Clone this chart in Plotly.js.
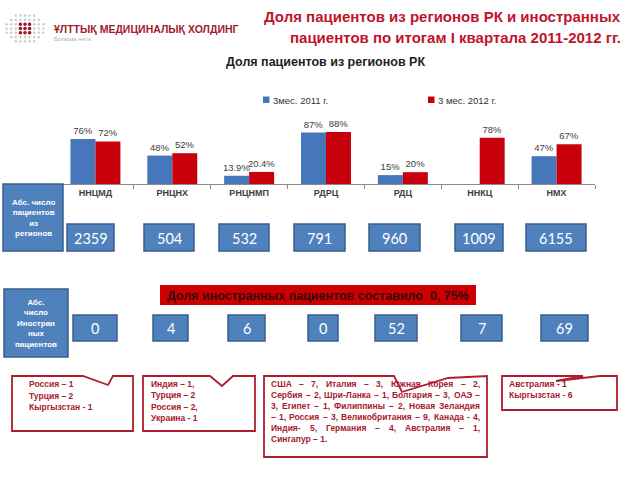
<!DOCTYPE html>
<html>
<head>
<meta charset="utf-8">
<script src="https://cdn.plot.ly/plotly-3.0.1.min.js"></script>
<style>
html,body{margin:0;padding:0;background:#fff;}
#chart{width:640px;height:480px;}
</style>
</head>
<body>
<div id="chart"></div>
<script>
// ---------- DATA ----------
const categories = ['ННЦМД', 'РНЦНХ', 'РНЦНМП', 'РДРЦ', 'РДЦ', 'ННКЦ', 'НМХ'];
const share2011 = [76, 48, 13.9, 87, 15, null, 47];
const share2012 = [72, 52, 20.4, 88, 20, 78, 67];
const seriesNames = ['3мес. 2011 г.', '3 мес. 2012 г.'];
const absRegional = [2359, 504, 532, 791, 960, 1009, 6155];
const absForeign = [0, 4, 6, 0, 52, 7, 69];
const mainTitleLines = ['Доля пациентов из регионов РК и иностранных', 'пациентов по итогам I квартала 2011-2012 гг.'];
const chartTitle = 'Доля пациентов из регионов РК';
const logoText = 'ҰЛТТЫҚ МЕДИЦИНАЛЫҚ ХОЛДИНГ';
const logoSub = 'Болашақ негізі';
const regionBoxLabel = 'Абс. число<br>пациентов<br>из<br>регионов';
const foreignBoxLabel = 'Абс.<br>число<br>Иностран<br>ных<br>пациентов';
const foreignShareText = 'Доля иностранных пациентов составило  0, 75%';
const callout1 = ['Россия – 1', 'Турция – 2', 'Кыргызстан - 1'];
const callout2 = ['Индия – 1,', 'Турция – 2', 'Россия – 2,', 'Украина - 1'];
const callout3 = [
  'США – 7,  Италия – 3,  Южная Корея – 2,',
  'Сербия – 2, Шри-Ланка – 1, Болгария – 3, ОАЭ –',
  '3, Египет – 1, Филиппины – 2, Новая Зеландия',
  '– 1, Россия – 3, Великобритания – 9, Канада - 4,',
  'Индия- 5, Германия – 4, Австралия – 1,',
  'Сингапур – 1.'
];
const callout4 = ['Австралия - 1', 'Кыргызстан - 6'];

// ---------- LAYOUT HELPERS (page pixels -> paper) ----------
const W = 640, H = 480;
const px = x => x / W;
const py = y => 1 - y / H;
const FONT = 'Liberation Sans, Arial, sans-serif';
const NUMFONT = 'Lato, Open Sans, sans-serif';
const BLUE = '#4677ba', RED = '#c8000c', TXTRED = '#a8182c', BOXBLUE = '#4f81bd', BOXEDGE = '#385d8a';

const row1Boxes = [[67,114],[144,194],[219,269],[294,345],[369,420],[455,503],[526,586]];
const row2Boxes = [[73,117],[153,188],[228,265],[308,338],[375,417],[461,502],[541,588]];

const shapes = [];
const annotations = [];

function rect(x0, y0, x1, y1, fill, line, lw) {
  shapes.push({type:'rect', xref:'paper', yref:'paper', x0:px(x0), x1:px(x1), y0:py(y1), y1:py(y0),
    fillcolor: fill, line:{color: line, width: lw}, layer:'above'});
}
function poly(pts, color, lw) {
  const d = pts.map((p, i) => (i ? 'L' : 'M') + px(p[0]).toFixed(5) + ',' + py(p[1]).toFixed(5)).join(' ') + ' Z';
  shapes.push({type:'path', xref:'paper', yref:'paper', path:d, fillcolor:'rgba(0,0,0,0)', line:{color, width: lw}, layer:'above'});
}
function text(t, x, y, opts) {
  opts = opts || {};
  annotations.push({xref:'paper', yref:'paper', x:px(x), y:py(y), text:t, showarrow:false,
    xanchor: opts.xanchor || 'center', yanchor: opts.yanchor || 'middle', align: opts.align || 'center',
    font: {family: opts.family || FONT, size: opts.size || 10, color: opts.color || '#222', weight: opts.weight || 'normal'},
    borderpad: 0});
}

// ---------- LOGO ----------
for (let r = -3; r <= 3; r++) {
  for (let c = -4; c <= 4; c++) {
    if ((c / 4.6) ** 2 + (r / 3.5) ** 2 > 1) continue;
    const cx = 25 + c * 4.6, cy = 28.5 + r * 4.3;
    const red = Math.abs(c) <= 1 && Math.abs(r) <= 1;
    const rr = red ? 1.8 : 1.3;
    shapes.push({type:'circle', xref:'paper', yref:'paper', x0:px(cx - rr), x1:px(cx + rr), y0:py(cy + rr), y1:py(cy - rr),
      fillcolor: red ? '#a01423' : '#cfcfcf', line:{width:0}});
  }
}
text(logoText, 53, 29, {xanchor:'left', size:10.5, color:'#a3202c', weight:'bold'});
text(logoSub, 53, 38.5, {xanchor:'left', size:5.5, color:'#b0b0b0'});

// ---------- TITLES ----------
text(mainTitleLines[0], 622, 17, {xanchor:'right', size:15, color:'#c0142c', weight:'bold'});
text(mainTitleLines[1], 622, 37, {xanchor:'right', size:15, color:'#c0142c', weight:'bold'});
text(chartTitle, 325, 62, {size:12.5, color:'#222', weight:'bold'});

// ---------- LEGEND (manual) ----------
rect(263, 96.5, 269.5, 103, BLUE, BLUE, 0);
text(seriesNames[0], 271.5, 100, {xanchor:'left', size:9.5, color:'#333'});
rect(428, 96.5, 434.5, 103, RED, RED, 0);
text(seriesNames[1], 436.5, 100, {xanchor:'left', size:9.5, color:'#333'});

// ---------- ROW 1 ----------
rect(3, 184, 63, 251, BOXBLUE, BOXEDGE, 1.5);
text(regionBoxLabel, 33, 218, {size:8, color:'#fff', weight:'bold'});
absRegional.forEach((v, i) => {
  const b = row1Boxes[i];
  rect(b[0], 224, b[1], 251, BOXBLUE, BOXEDGE, 1.5);
  text(String(v), (b[0] + b[1]) / 2, 238, {size:14.5, color:'#fff', family:NUMFONT});
});

// ---------- ROW 2 ----------
rect(160, 285, 476, 305, '#cc0000', '#cc0000', 0);
text(foreignShareText, 318, 295.5, {size:12.5, color:'#3a0508', weight:'bold'});
rect(4, 289, 68, 357, BOXBLUE, BOXEDGE, 1.5);
text(foreignBoxLabel, 36, 323, {size:8, color:'#fff', weight:'bold'});
absForeign.forEach((v, i) => {
  const b = row2Boxes[i];
  rect(b[0], 315, b[1], 341, BOXBLUE, BOXEDGE, 1.5);
  text(String(v), (b[0] + b[1]) / 2, 328.5, {size:14.5, color:'#fff', family:NUMFONT});
});

// ---------- CALLOUTS ----------
poly([[12,376],[83,376],[108,385],[113,376],[133,376],[133,431],[12,431]], '#b01c2e', 1.8);
poly([[143,376],[210,376],[222,386],[233,376],[255,376],[255,431],[143,431]], '#b01c2e', 1.8);
poly([[264,376],[394,376],[402,392],[448,378],[487,376],[487,457],[264,457]], '#b01c2e', 1.8);
poly([[502,376],[583,376],[556,381],[600,376],[617,376],[617,410],[502,410]], '#b01c2e', 1.8);

const CF = 8.5;
callout1.forEach((t, i) => text(t, 28, 384 + i * 11.5, {xanchor:'left', size:CF, color:TXTRED, weight:'bold'}));
callout2.forEach((t, i) => text(t, 150, 384 + i * 11.3, {xanchor:'left', size:CF, color:TXTRED, weight:'bold'}));
callout4.forEach((t, i) => text(t, 508, 383.5 + i * 11.5, {xanchor:'left', size:CF, color:TXTRED, weight:'bold'}));

// justified paragraph in callout 3
(function () {
  const ctx = document.createElement('canvas').getContext('2d');
  ctx.font = 'bold ' + CF + 'px "Liberation Sans"';
  const x0 = 270, x1 = 479;
  callout3.forEach((line, li) => {
    const y = 383.5 + li * 11;
    const last = li === callout3.length - 1;
    const words = line.split(/\s+/).filter(Boolean);
    if (last || words.length < 2) {
      text(line, x0, y, {xanchor:'left', size:CF, color:TXTRED, weight:'bold'});
      return;
    }
    const ws = words.map(w => ctx.measureText(w).width);
    const total = ws.reduce((a, b) => a + b, 0);
    const gap = (x1 - x0 - total) / (words.length - 1);
    let x = x0;
    words.forEach((w, i) => {
      text(w, x, y, {xanchor:'left', size:CF, color:TXTRED, weight:'bold'});
      x += ws[i] + gap;
    });
  });
})();

// ---------- BAR CHART ----------
const traces = [
  {type:'bar', x:categories, y:share2011, name:seriesNames[0], marker:{color:BLUE},
   texttemplate:'%{y}%', textposition:'outside', constraintext:'none', cliponaxis:false,
   textfont:{family:FONT, size:9.5, color:'#404040'}, hoverinfo:'skip'},
  {type:'bar', x:categories, y:share2012, name:seriesNames[1], marker:{color:RED},
   texttemplate:'%{y}%', textposition:'outside', constraintext:'none', cliponaxis:false,
   textfont:{family:FONT, size:9.5, color:'#404040'}, hoverinfo:'skip'}
];

const layout = {
  width: W, height: H,
  margin: {l:0, r:0, t:0, b:0, pad:0},
  paper_bgcolor: '#fff', plot_bgcolor: 'rgba(0,0,0,0)',
  showlegend: false,
  barmode: 'group', bargap: 0.35, bargroupgap: 0,
  xaxis: {domain:[px(57), px(595)], type:'category', showline:true, linecolor:'#8c8c8c', linewidth:1,
    ticks:'outside', tickson:'boundaries', ticklen:4, tickcolor:'#8c8c8c', showgrid:false, zeroline:false,
    tickfont:{family:FONT, size:9, color:'#404040', weight:'bold'}, fixedrange:true},
  yaxis: {domain:[py(184), py(110)], range:[0, 125], visible:false, fixedrange:true},
  font: {family: FONT},
  shapes: shapes,
  annotations: annotations
};

Plotly.newPlot('chart', traces, layout, {displayModeBar:false, staticPlot:true});
</script>
</body>
</html>
